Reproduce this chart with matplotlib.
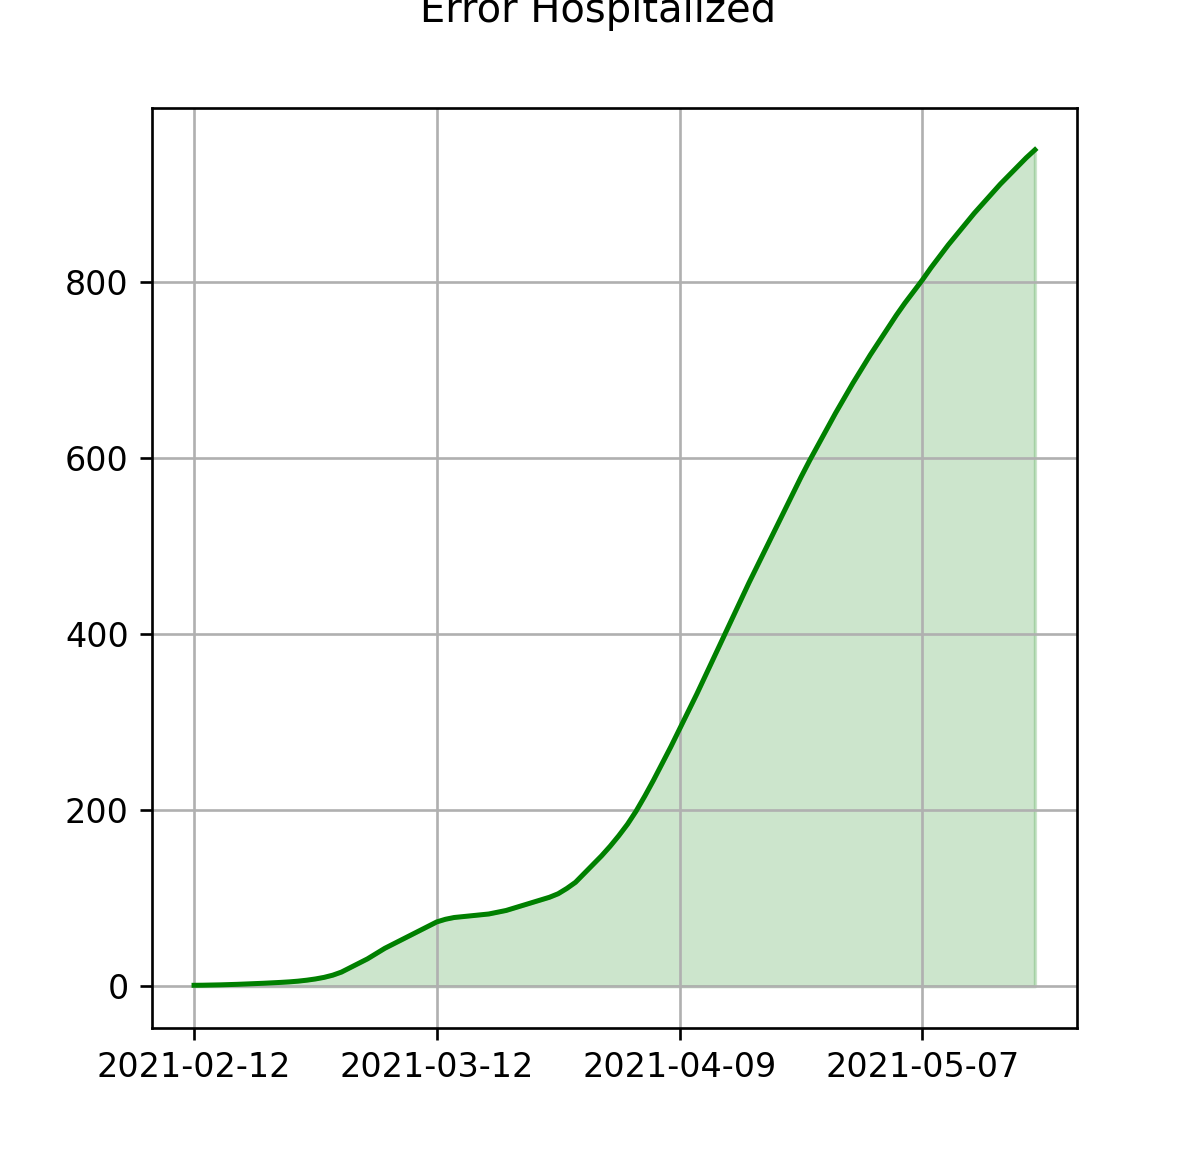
import numpy as np
import pandas as pd
import matplotlib
matplotlib.use("Agg")
import matplotlib.pyplot as plt
import matplotlib.dates as mdates

# daily error values, 2021-02-12 .. 2021-05-20
dates = pd.date_range("2021-02-12", "2021-05-20", freq="D")
error = [
    1.0, 1.1, 1.3, 1.5, 1.8, 2.1, 2.5, 2.9, 3.3, 3.8,
    4.3, 4.9, 5.7, 6.8, 8.2, 10, 12.5, 16, 21, 26,
    31, 37, 43, 48, 53, 58, 63, 68, 73, 76,
    78, 79, 80, 81, 82, 84, 86, 89, 92, 95,
    98, 101, 105, 111, 118, 128, 138, 148, 159, 171,
    184, 199, 216, 234, 253, 272, 292, 312, 332, 353,
    374, 395, 416, 437, 458, 478, 498, 518, 538, 558,
    578, 597, 615, 633, 651, 668, 685, 701, 717, 732,
    747, 762, 776, 789, 802, 816, 829, 842, 854, 866,
    878, 889, 900, 911, 921, 931, 941, 950,
]
tick_dates = pd.to_datetime(["2021-02-12", "2021-03-12", "2021-04-09", "2021-05-07"])

fig = plt.figure(figsize=(1196 / 240, 1160 / 240), dpi=240)
ax = fig.add_axes([0.1271, 0.1138, 0.7734, 0.7931])

ax.plot(dates, error, color="green")
ax.fill_between(dates, error, color="green", alpha=0.2)
ax.set_xticks(tick_dates)
ax.xaxis.set_major_formatter(mdates.DateFormatter("%Y-%m-%d"))
ax.grid(True)
fig.text(0.5, 1 - 22 / 1160, "Error Hospitalized", ha="center", va="baseline", fontsize=12)

fig.savefig("out.png", dpi=240)
